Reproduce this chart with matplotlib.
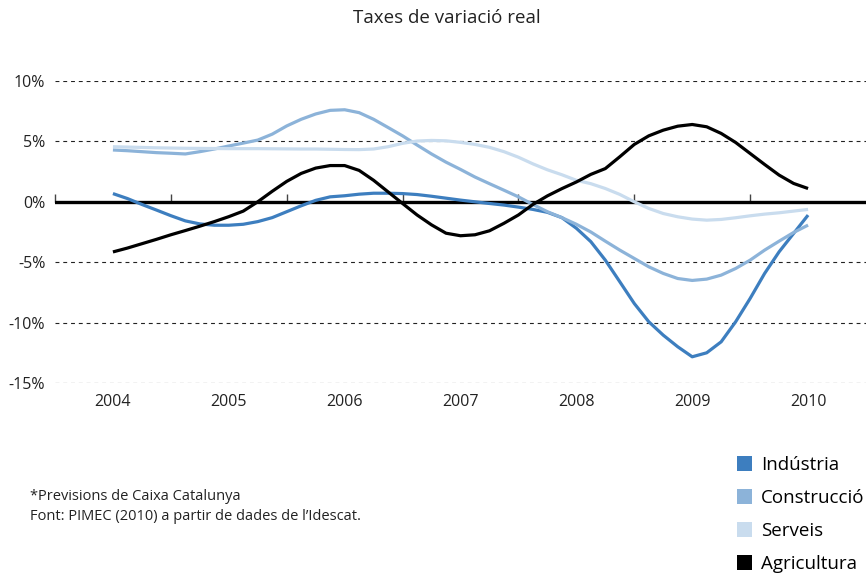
import matplotlib
matplotlib.use("Agg")
import matplotlib.pyplot as plt
from matplotlib.patches import Patch

plt.rcParams['font.family'] = ['Open Sans', 'DejaVu Sans']

years = ['2004', '2005', '2006', '2007', '2008', '2009', '2010']
# positions every eighth of a year since 2004
t = [k / 8 for k in range(49)]

industria = [0.68, 0.27, -0.22, -0.68, -1.15, -1.58, -1.83, -1.94, -1.94, -1.86, -1.64, -1.31,
             -0.82, -0.33, 0.12, 0.41, 0.5, 0.63, 0.71, 0.71, 0.68, 0.6, 0.46, 0.3, 0.14,
             0.0, -0.14, -0.27, -0.44, -0.63, -0.87, -1.31, -2.19, -3.3, -4.83, -6.62, -8.42,
             -9.93, -11.04, -12.0, -12.83, -12.5, -11.59, -9.93, -8.0, -5.93, -4.14, -2.62, -1.1]
construccio = [4.29, 4.23, 4.15, 4.07, 4.02, 3.96, 4.15, 4.37, 4.62, 4.86, 5.11, 5.6,
               6.28, 6.83, 7.27, 7.57, 7.62, 7.38, 6.83, 6.15, 5.46, 4.7, 3.96, 3.28, 2.68,
               2.05, 1.5, 0.96, 0.41, -0.22, -0.82, -1.31, -1.86, -2.5, -3.26, -4.0, -4.69,
               -5.38, -5.93, -6.35, -6.51, -6.4, -6.07, -5.52, -4.83, -4.0, -3.26, -2.54, -1.93]
serveis = [4.56, 4.53, 4.5, 4.47, 4.45, 4.43, 4.42, 4.41, 4.4, 4.4, 4.4, 4.39,
           4.38, 4.37, 4.37, 4.35, 4.33, 4.32, 4.37, 4.56, 4.84, 5.03, 5.08, 5.05, 4.92,
           4.75, 4.51, 4.15, 3.69, 3.14, 2.65, 2.24, 1.78, 1.5, 1.1, 0.61, 0.0,
           -0.55, -0.97, -1.24, -1.43, -1.52, -1.46, -1.32, -1.16, -1.02, -0.91, -0.77, -0.63]
agricultura = [-4.15, -3.83, -3.47, -3.11, -2.73, -2.38, -2.02, -1.64, -1.23, -0.77, 0.0, 0.87,
               1.69, 2.35, 2.79, 3.0, 3.0, 2.6, 1.78, 0.82, -0.14, -1.09, -1.91, -2.6, -2.81,
               -2.73, -2.4, -1.78, -1.09, -0.22, 0.49, 1.09, 1.64, 2.27, 2.75, 3.73, 4.75,
               5.46, 5.93, 6.26, 6.4, 6.21, 5.66, 4.91, 4.0, 3.09, 2.21, 1.52, 1.1]

series = [('Indústria', industria, '#3d7ebf'),
          ('Construcció', construccio, '#8cb3d9'),
          ('Serveis', serveis, '#c9dcee'),
          ('Agricultura', agricultura, '#000000')]

yticks = [10, 5, 0, -5, -10, -15]
ylabels = ['10%', '5%', '0%', '-5%', '-10%', '-15%']

W, H = 866, 574
fig = plt.figure(figsize=(W / 100, H / 100), dpi=100)
ax = fig.add_axes([55 / W, 1 - 383 / H, (866 - 55) / W, (383 - 81) / H])

for yv in yticks:
    if yv != 0:
        ax.axhline(yv, color='#222222', lw=0.8, ls=(0, (3.5, 3.5)), zorder=1)
ax.axhline(0, color='black', lw=2.4, zorder=2)

order = [2, 1, 3, 0]
for i in order:
    name, vals, col = series[i]
    ax.plot(t, vals, color=col, lw=2.3, solid_capstyle='butt', solid_joinstyle='round',
            zorder=3 + i * 0.1)

ax.set_xlim(-0.5, 6.5)
ax.set_ylim(-15, 10)
ax.set_xticks(range(len(years)))
ax.set_xticklabels(years)
ax.set_yticks(yticks)
ax.set_yticklabels(ylabels)
ax.tick_params(axis='both', length=0, labelsize=11.5, colors='#222222')
ax.tick_params(axis='x', pad=8)
ax.tick_params(axis='y', pad=7)
for s in ax.spines.values():
    s.set_visible(False)

# tick marks on the zero line at category boundaries
sec = ax.secondary_xaxis(0.6)
sec.set_xticks([i - 0.5 for i in range(len(years))])
sec.set_xticklabels([''] * len(years))
sec.tick_params(axis='x', direction='out', length=6, width=1, colors='#444444')
sec.spines['bottom'].set_visible(False)

fig.text(447 / W, 1 - 18 / H, 'Taxes de variació real', ha='center', va='center',
         fontsize=13.5, color='#222222')

fig.text(30 / W, 1 - 496 / H, '*Previsions de Caixa Catalunya', ha='left', va='center',
         fontsize=10.5, color='#222222')
fig.text(30 / W, 1 - 516 / H, "Font: PIMEC (2010) a partir de dades de l\u2019Idescat.",
         ha='left', va='center', fontsize=10.5, color='#222222')

handles = [Patch(facecolor=c, edgecolor='none') for _, _, c in series]
labels = [n for n, _, _ in series]
fig.legend(handles, labels, loc='upper left', bbox_to_anchor=(737 / W, 1 - 456 / H),
           frameon=False, fontsize=13.5, handlelength=0.8, handleheight=0.8,
           handletextpad=0.5, labelspacing=0.8, borderpad=0, borderaxespad=0)

fig.savefig('out.png', dpi=100)
